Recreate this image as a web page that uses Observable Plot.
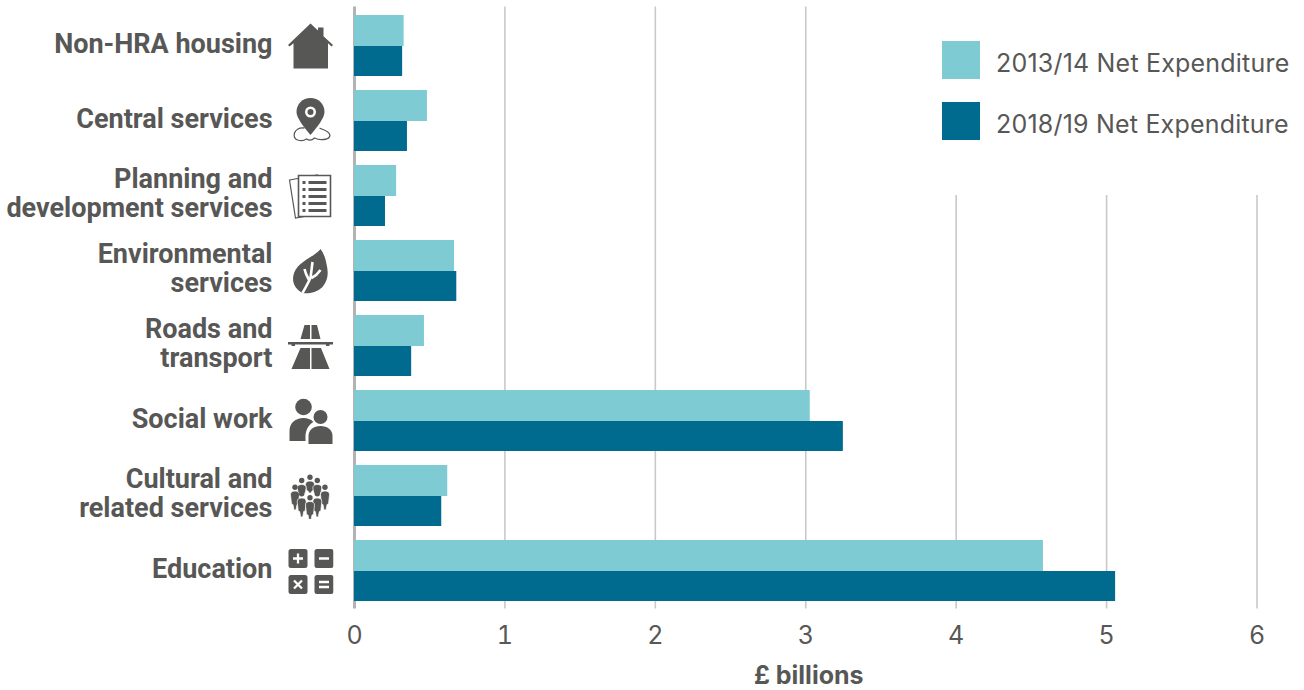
<!DOCTYPE html>
<html><head><meta charset="utf-8">
<script src="https://cdn.jsdelivr.net/npm/d3@7"></script>
<script src="https://cdn.jsdelivr.net/npm/@observablehq/plot@0.6"></script>
<style>
html,body{margin:0;padding:0;background:#fff;overflow:hidden}
#wrap{position:relative;width:1304px;height:690px;font-family:Inter,Roboto,sans-serif}
#legend{position:absolute;left:905px;top:0;width:399px;height:195px;background:#fff}
#legend .s{position:absolute;left:37px;width:38px;height:38px}
#legend .t{position:absolute;left:91px;font-size:25px;line-height:38px;color:#575756;white-space:nowrap;letter-spacing:.2px}
svg{display:block}
</style></head><body><div id="wrap"></div>
<script>
const categories = ["Non-HRA housing","Central services","Planning and\ndevelopment services","Environmental\nservices","Roads and\ntransport","Social work","Cultural and\nrelated services","Education"];
const net2013 = [0.33,0.485,0.28,0.665,0.465,3.03,0.62,4.58];
const net2018 = [0.32,0.352,0.206,0.68,0.38,3.25,0.58,5.06];
const seriesNames = ["2013/14 Net Expenditure","2018/19 Net Expenditure"];
const seriesColors = ["#7fcbd3","#006a8f"];
const xTicks = [0,1,2,3,4,5,6];
const grey = "#575756";

const iconBodies = [
 // house
 `<path fill="${grey}" d="M.5 22 23 .5l7.5 7V4.500h5.500v8.800L45.500 22l-1.500 1.500-3.500-3.300V45.500H6V20.200L2 23.500z"/>`,
 // pin & map
 `<path fill="none" stroke="${grey}" stroke-width="1.300" d="M17 30C12 29 8 32 7 35c-1 3 0 6 3 7 3 1 6 1 9-1 3 2 6 1 8-1 4 2 8 2 12 1 3-1 4-3 3-5-1-3-6-4-10-6"/>
 <path fill="${grey}" d="M23 0C15 0 9 6 9 14c0 6 8 16 14 23 6-7 14-17 14-23C37 6 31 0 23 0z"/>
 <circle cx="23" cy="14" r="5.500" fill="#fff"/><circle cx="23" cy="14" r="3" fill="${grey}"/>`,
 // documents
 `<path fill="#fff" stroke="${grey}" stroke-width="1.200" d="M2 7 30 2l6 38-28 5z"/>
 <path fill="#fff" stroke="${grey}" stroke-width="1.600" d="M11 2.500h32v41H11z"/>
 <path fill="${grey}" d="M15 8h3v3h-3zM21 8h18v3H21zM15 15h3v3h-3zM21 15h18v3H21zM15 22h3v3h-3zM21 22h18v3H21zM15 29h3v3h-3zM21 29h18v3H21zM15 36h3v3h-3zM21 36h18v3H21z"/>`,
 // leaf
 `<path fill="${grey}" d="M33 1c-4 6-16 10-23 18C5 25 4 33 8 39c2 3 5 5 7 6 5 1 14 0 20-6 6-7 6-15 4-23-1-6-3-11-6-15z"/>
 <path fill="none" stroke="#fff" stroke-width="2.600" d="M15 45c3-5 5-9 8-15l2-16M22 33c-2-4-4-7-5-12M24 30c4-2 7-5 9-8"/>`,
 // motorway
 `<path fill="${grey}" d="M17 2h5.500v14H13zM24 2h5.500L33 16h-9zM.5 19h45v2.500H42v1.500H38.500v-1.500H7.500V23H4v-1.500H.5zM13 25h9.500v21H4zM24 25h9.500L42 46H24z"/>`,
 // people
 `<circle cx="16" cy="9" r="8.300" fill="${grey}"/><circle cx="33" cy="19" r="7" fill="${grey}"/>
 <path fill="${grey}" d="M2 43V33c0-8 6-13 14-13 4 0 7 1 10 4-4 2-7 6-8 13v6z"/>
 <path fill="${grey}" d="M21 46V38c0-6 5-10 12-10s12 4 12 10v8z"/>`,
 // crowd
 (() => {
   const dot = (x,y) => `<circle cx="${x}" cy="${y}" r="2.700" fill="${grey}"/>`;
   const body = (x,y,h) => `<path fill="${grey}" stroke="#fff" stroke-width=".7" d="M${x-4.500} ${y+3.500}c0-2.500 2-3.500 4.500-3.500s4.500 1 4.500 3.500l-1 ${h*.5}-1.500 .5-1 ${h*.5-4}h-2l-1-${h*.5-4}-1.500-.5z"/>`;
   return dot(22.5,4.2)+body(22.5,8,12)+dot(14.2,7.5)+dot(29.8,7.5)+body(14.2,11.5,10)+body(29.8,11.5,10)
     +dot(7.5,14.2)+dot(37.5,14.2)+body(7.5,18,19)+body(37.5,18,19)
     +dot(14.2,20.8)+dot(29.8,20.8)+body(14.2,25,19)+body(29.8,25,19)
     +dot(22.5,24.8)+body(22.5,28.5,19);
 })(),
 // calculator
 `<g fill="${grey}"><rect x="1" y="1" width="19" height="19" rx="2.500"/><rect x="27" y="1" width="19" height="19" rx="2.500"/><rect x="1" y="27" width="19" height="19" rx="2.500"/><rect x="27" y="27" width="19" height="19" rx="2.500"/></g>
 <path stroke="#fff" stroke-width="2.300" fill="none" d="M10.500 5.500v10M5.500 10.500h10M31.500 10.500h10M6.500 32.500l8 8M14.500 32.500l-8 8M31.500 34h10M31.500 39h10"/>`
];
const iconSrc = b => "data:image/svg+xml," + encodeURIComponent(`<svg xmlns="http://www.w3.org/2000/svg" width="46" height="46" viewBox="0 0 46 46">${b}</svg>`);

const rows = categories.map((c,i) => ({c, a:net2013[i], b:net2018[i], icon:iconSrc(iconBodies[i])}));

const plot = Plot.plot({
  width:1304, height:690,
  marginLeft:354, marginRight:47.5, marginTop:6.5, marginBottom:81.5,
  style:{fontFamily:"Inter,Roboto,sans-serif", background:"#fff"},
  x:{domain:[0,6]},
  y:{domain:categories, type:"band", paddingInner:.188, paddingOuter:.1, axis:null},
  marks:[
    Plot.gridX(xTicks.slice(1),{stroke:"#c9c9c9",strokeOpacity:1,strokeWidth:1.6}),
    Plot.ruleX([0],{stroke:"#b3b3b3",strokeWidth:3}),
    Plot.barX(rows,{x:"a",y:"c",fill:seriesColors[0],insetBottom:30}),
    Plot.barX(rows,{x:"b",y:"c",fill:seriesColors[1],insetTop:31}),
    Plot.axisX(xTicks,{tickSize:0,tickPadding:17,fontSize:25,color:grey,label:null,textStroke:"none",tickFormat:d=>d}),
    Plot.text(rows,{text:"c",x:()=>0,y:"c",dx:-82,dy:-2.5,textAnchor:"end",fontSize:27,fontFamily:"Roboto",fontWeight:700,fill:grey,lineHeight:1.075}),
    Plot.image(rows,{src:"icon",x:()=>0,y:"c",dx:-44,width:46,height:46}),
    Plot.text(["£ billions"],{x:()=>3,frameAnchor:"bottom",dx:3,dy:75,fontSize:25,fontWeight:700,fill:grey})
  ]
});
const wrap = document.getElementById("wrap");
wrap.appendChild(plot);
const lg = document.createElement("div"); lg.id="legend";
seriesNames.forEach((n,i)=>{
  const top = 41+61*i;
  lg.insertAdjacentHTML("beforeend",`<div class="s" style="top:${top}px;background:${seriesColors[i]}"></div><div class="t" style="top:${top+3}px">${n}</div>`);
});
wrap.appendChild(lg);
</script></body></html>
